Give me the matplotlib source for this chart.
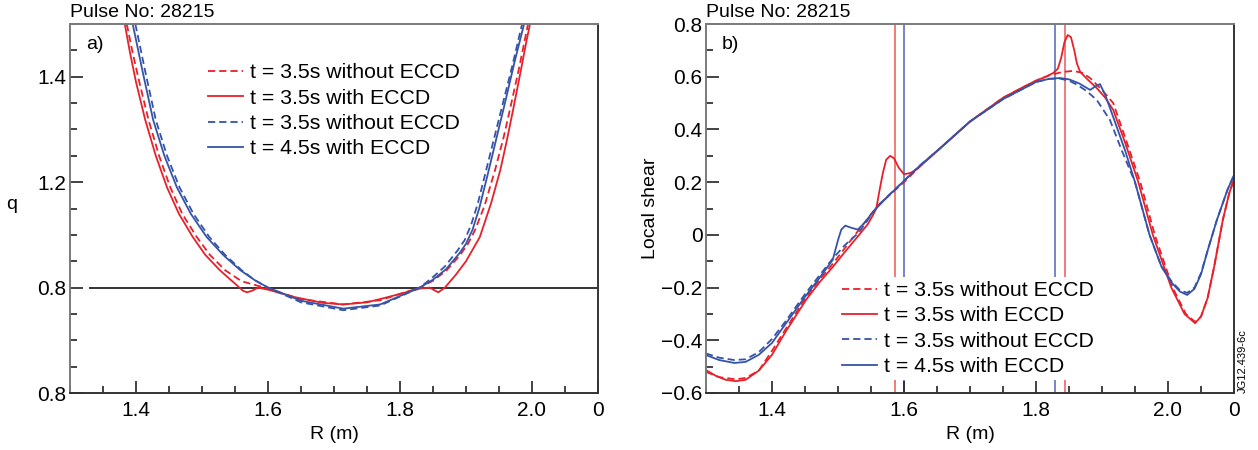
import numpy as np
import matplotlib
matplotlib.use("Agg")
import matplotlib.pyplot as plt
from matplotlib.ticker import MultipleLocator

plt.rcParams['font.family'] = ['Liberation Sans', 'DejaVu Sans']

RED = '#e8202a'
BLUE = '#3553a8'

labels = ['t = 3.5s without ECCD', 't = 3.5s with ECCD',
          't = 3.5s without ECCD', 't = 4.5s with ECCD']

# ---- panel a) q profiles ----
R_q_red_off = [1.386, 1.395, 1.405, 1.419, 1.435, 1.452, 1.47, 1.492, 1.512, 1.535, 1.56,
               1.60, 1.65, 1.714, 1.77, 1.83, 1.85, 1.87, 1.89, 1.903, 1.914, 1.928,
               1.944, 1.957, 1.967, 1.981, 1.994]
q_red_off = [1.50, 1.445, 1.39, 1.318, 1.25, 1.19, 1.14, 1.096, 1.062, 1.033, 1.012,
             0.998, 0.978, 0.968, 0.976, 1.0, 1.013, 1.032, 1.06, 1.083, 1.11, 1.155,
             1.223, 1.285, 1.34, 1.42, 1.50]

R_q_red_on = [1.383, 1.391, 1.40, 1.414, 1.43, 1.447, 1.465, 1.486, 1.505, 1.527, 1.545,
              1.555, 1.562, 1.568, 1.576, 1.585, 1.60, 1.64, 1.683, 1.714, 1.75, 1.785,
              1.83, 1.845, 1.852, 1.858, 1.868, 1.885, 1.90, 1.921, 1.938, 1.952, 1.962,
              1.971, 1.982, 1.992, 1.997]
q_red_on = [1.50, 1.445, 1.39, 1.318, 1.25, 1.19, 1.14, 1.096, 1.062, 1.033, 1.013,
            1.002, 0.994, 0.991, 0.994, 1.0, 0.996, 0.982, 0.971, 0.968, 0.972, 0.983,
            0.998, 1.0, 0.995, 0.991, 1.0, 1.025, 1.05, 1.096, 1.16, 1.223, 1.28,
            1.335, 1.405, 1.47, 1.50]

R_q_blue_off = [1.399, 1.404, 1.414, 1.43, 1.447, 1.466, 1.487, 1.511, 1.535, 1.56, 1.58,
                1.60, 1.65, 1.714, 1.77, 1.83, 1.85, 1.868, 1.887, 1.898, 1.908, 1.918,
                1.93, 1.956, 1.97, 1.985]
q_blue_off = [1.50, 1.47, 1.41, 1.318, 1.25, 1.19, 1.14, 1.096, 1.062, 1.033, 1.014,
              1.0, 0.972, 0.957, 0.966, 1.0, 1.02, 1.04, 1.07, 1.09, 1.12, 1.16,
              1.22, 1.35, 1.42, 1.50]

R_q_blue_on = [1.395, 1.40, 1.41, 1.426, 1.443, 1.462, 1.483, 1.507, 1.532, 1.558, 1.58,
               1.60, 1.65, 1.714, 1.77, 1.83, 1.85, 1.87, 1.89, 1.90, 1.91, 1.92,
               1.932, 1.959, 1.973, 1.988]
q_blue_on = [1.50, 1.47, 1.41, 1.318, 1.25, 1.19, 1.14, 1.096, 1.062, 1.033, 1.014,
             1.0, 0.975, 0.960, 0.968, 1.0, 1.015, 1.035, 1.065, 1.083, 1.11, 1.15,
             1.21, 1.35, 1.425, 1.50]

q_ref = 1.0

# ---- panel b) local shear ----
R_s_red_off = [1.30, 1.32, 1.345, 1.36, 1.38, 1.40, 1.42, 1.452, 1.472, 1.492, 1.512,
               1.532, 1.56, 1.60, 1.625, 1.655, 1.70, 1.75, 1.80, 1.82, 1.84, 1.856,
               1.87, 1.882, 1.90, 1.917, 1.935, 1.958, 1.98, 2.007, 2.027, 2.041, 2.05,
               2.06, 2.07, 2.083, 2.093, 2.10]
s_red_off = [-0.52, -0.54, -0.548, -0.543, -0.515, -0.44, -0.36, -0.235, -0.17, -0.11,
             -0.045, 0.02, 0.11, 0.20, 0.262, 0.329, 0.43, 0.52, 0.585, 0.605, 0.618,
             0.622, 0.615, 0.595, 0.55, 0.50, 0.37, 0.2, 0.0, -0.2, -0.3, -0.33, -0.31,
             -0.24, -0.12, 0.056, 0.16, 0.21]

R_s_red_on = [1.30, 1.315, 1.33, 1.345, 1.36, 1.38, 1.40, 1.42, 1.452, 1.472, 1.492,
              1.512, 1.532, 1.545, 1.553, 1.558, 1.563, 1.568, 1.573, 1.579, 1.585,
              1.592, 1.60, 1.61, 1.62, 1.655, 1.70, 1.75, 1.78, 1.80, 1.815, 1.826,
              1.833, 1.838, 1.843, 1.848, 1.853, 1.858, 1.862, 1.867, 1.878, 1.892,
              1.905, 1.917, 1.935, 1.955, 1.977, 2.005, 2.025, 2.041, 2.05, 2.06, 2.07,
              2.083, 2.093, 2.10]
s_red_on = [-0.513, -0.535, -0.55, -0.555, -0.55, -0.515, -0.455, -0.37, -0.245, -0.18,
            -0.122, -0.06, 0.0, 0.04, 0.075, 0.10, 0.17, 0.235, 0.285, 0.30, 0.29,
            0.255, 0.23, 0.235, 0.25, 0.329, 0.43, 0.52, 0.56, 0.585, 0.60, 0.614,
            0.63, 0.67, 0.73, 0.758, 0.75, 0.70, 0.65, 0.618, 0.59, 0.557, 0.52, 0.474,
            0.35, 0.2, 0.0, -0.2, -0.3, -0.335, -0.31, -0.24, -0.12, 0.056, 0.16, 0.21]

R_s_blue_off = [1.30, 1.32, 1.343, 1.36, 1.38, 1.40, 1.42, 1.45, 1.47, 1.492, 1.51,
                1.532, 1.56, 1.60, 1.625, 1.655, 1.70, 1.75, 1.80, 1.82, 1.836, 1.85,
                1.862, 1.877, 1.892, 1.912, 1.93, 1.95, 1.972, 1.99, 2.005, 2.018,
                2.029, 2.04, 2.05, 2.06, 2.074, 2.09, 2.10]
s_blue_off = [-0.45, -0.466, -0.475, -0.472, -0.445, -0.395, -0.33, -0.225, -0.16,
              -0.09, -0.04, 0.01, 0.11, 0.205, 0.265, 0.329, 0.43, 0.515, 0.58, 0.592,
              0.593, 0.585, 0.57, 0.545, 0.512, 0.436, 0.32, 0.2, 0.0, -0.12, -0.175,
              -0.21, -0.22, -0.2, -0.145, -0.06, 0.056, 0.17, 0.227]

R_s_blue_on = [1.30, 1.32, 1.343, 1.36, 1.38, 1.40, 1.42, 1.45, 1.47, 1.492, 1.50,
               1.505, 1.511, 1.52, 1.53, 1.54, 1.553, 1.575, 1.598, 1.625, 1.655, 1.70,
               1.75, 1.80, 1.82, 1.836, 1.85, 1.865, 1.882, 1.891, 1.897, 1.905, 1.917,
               1.935, 1.95, 1.972, 1.99, 2.005, 2.018, 2.029, 2.04, 2.05, 2.06, 2.074,
               2.09, 2.10]
s_blue_on = [-0.456, -0.475, -0.486, -0.482, -0.455, -0.41, -0.34, -0.235, -0.17,
             -0.095, -0.02, 0.02, 0.035, 0.027, 0.02, 0.045, 0.087, 0.145, 0.20, 0.265,
             0.329, 0.43, 0.515, 0.58, 0.592, 0.595, 0.59, 0.575, 0.55, 0.565, 0.572,
             0.53, 0.447, 0.32, 0.2, 0.0, -0.12, -0.18, -0.215, -0.228, -0.205, -0.15,
             -0.06, 0.056, 0.17, 0.227]

R_vlines_red = [1.586, 1.844]
R_vlines_blue = [1.600, 1.829]

x_ticks = [1.4, 1.6, 1.8, 2.0, 2.1]
x_ticklabels = ['1.4', '1.6', '1.8', '2.0', '0']
q_ticks = [0.8, 1.0, 1.2, 1.4]
q_ticklabels = ['0.8', '0.8', '1.2', '1.4']
s_ticks = [-0.6, -0.4, -0.2, 0.0, 0.2, 0.4, 0.6, 0.8]
s_ticklabels = ['\u22120.6', '\u22120.4', '\u22120.2', '0', '0.2', '0.4', '0.6', '0.8']

fig = plt.figure(figsize=(12.58, 4.5), dpi=100)
ax1 = fig.add_axes([70 / 1258, 57 / 450, 528 / 1258, 369 / 450])
ax2 = fig.add_axes([706 / 1258, 57 / 450, 528 / 1258, 369 / 450])

dash = (0, (4, 2.2))
lw = 1.3
leg_kw = dict(fontsize=15.3, handlelength=1.65, handletextpad=0.3, labelspacing=0.3,
              borderpad=0.2, borderaxespad=0.0)


def style_axes(ax, yticks, yticklabels, yminor):
    ax.set_xlim(1.3, 2.1)
    ax.set_xticks(x_ticks)
    ax.set_xticklabels(x_ticklabels)
    ax.xaxis.set_minor_locator(MultipleLocator(0.05))
    ax.set_yticks(yticks)
    ax.set_yticklabels(yticklabels)
    ax.yaxis.set_minor_locator(MultipleLocator(yminor))
    ax.tick_params(which='both', direction='in', top=False, right=False,
                   labelsize=15, width=1.2, color='#222222')
    ax.tick_params(which='major', length=9)
    ax.tick_params(axis='x', which='major', pad=6)
    ax.tick_params(axis='y', which='major', pad=2.5)
    ax.tick_params(which='minor', length=5)
    for side in ['top', 'left']:
        ax.spines[side].set_color('#7a7a7a')
    for side in ['bottom', 'right']:
        ax.spines[side].set_color('#333333')
    for sp in ax.spines.values():
        sp.set_linewidth(1.4)
    ax.set_xlabel('R (m)', fontsize=14, labelpad=4)
    ax.text(0.0, 1.008, 'Pulse No: 28215', transform=ax.transAxes,
            fontsize=14, ha='left', va='bottom')


# panel a
ax1.hlines(q_ref, 1.329, 2.1, color='#222222', lw=1.3, zorder=1)
ax1.plot(R_q_red_off, q_red_off, color=RED, lw=lw, ls=dash, label=labels[0])
ax1.plot(R_q_red_on, q_red_on, color=RED, lw=lw, label=labels[1])
ax1.plot(R_q_blue_off, q_blue_off, color=BLUE, lw=lw, ls=dash, label=labels[2])
ax1.plot(R_q_blue_on, q_blue_on, color=BLUE, lw=lw, label=labels[3])
ax1.set_ylim(0.8, 1.5)
style_axes(ax1, q_ticks, q_ticklabels, 0.05)
ax1.set_ylabel('q', fontsize=14, rotation=0, va='center', ha='center')
ax1.yaxis.set_label_coords(-0.11, 0.51)
ax1.text(0.03, 0.945, 'a)', transform=ax1.transAxes, fontsize=14, va='center')
ax1.legend(loc='upper left', bbox_to_anchor=(0.254, 0.905), frameon=False, **leg_kw)

# panel b
for r in R_vlines_red:
    ax2.axvline(r, color='#f07070', lw=1.3, zorder=1)
for r in R_vlines_blue:
    ax2.axvline(r, color='#6a7cc4', lw=1.3, zorder=1)
ax2.plot(R_s_red_off, s_red_off, color=RED, lw=lw, ls=dash, label=labels[0])
ax2.plot(R_s_red_on, s_red_on, color=RED, lw=lw, label=labels[1])
ax2.plot(R_s_blue_off, s_blue_off, color=BLUE, lw=lw, ls=dash, label=labels[2])
ax2.plot(R_s_blue_on, s_blue_on, color=BLUE, lw=lw, label=labels[3])
ax2.set_ylim(-0.6, 0.8)
style_axes(ax2, s_ticks, s_ticklabels, 0.1)
ax2.set_ylabel('Local shear', fontsize=14, va='center', ha='center')
ax2.yaxis.set_label_coords(-0.105, 0.5)
ax2.text(0.03, 0.945, 'b)', transform=ax2.transAxes, fontsize=14, va='center')
leg = ax2.legend(loc='upper left', bbox_to_anchor=(0.25, 0.315), frameon=True,
                 fancybox=False, framealpha=1.0, **leg_kw)
leg.get_frame().set_edgecolor('none')
leg.get_frame().set_facecolor('white')

fig.text(1243 / 1258, 57 / 450, 'JG12.439-6c', rotation=90,
         fontsize=8, ha='center', va='bottom')

fig.savefig('out.png', dpi=100)
